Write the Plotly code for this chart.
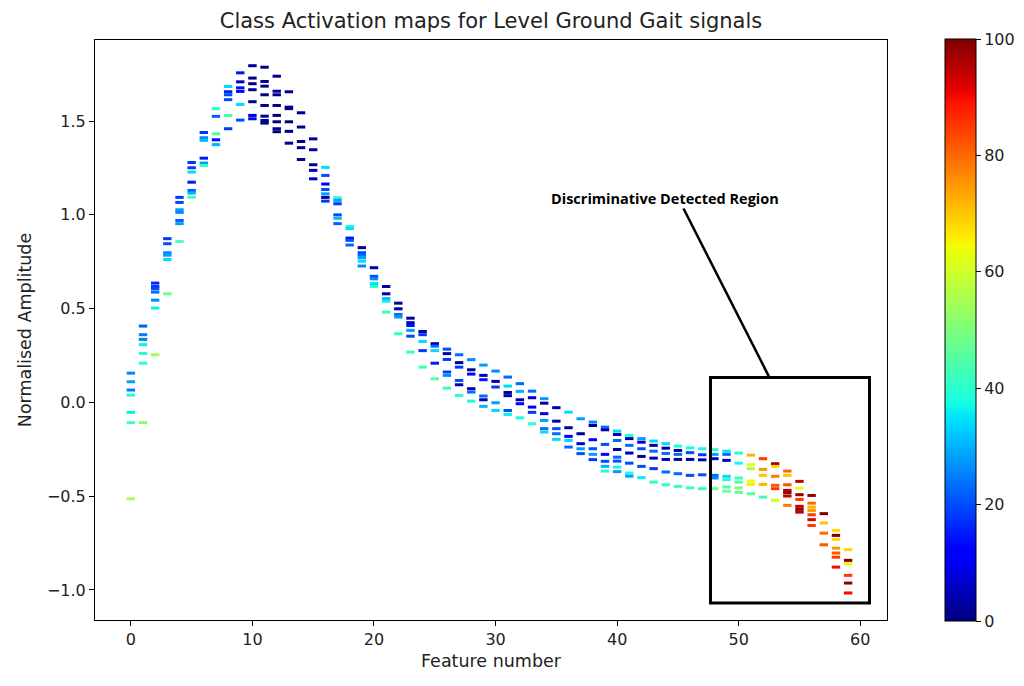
import numpy as np
import plotly.graph_objects as go

# ---------------- data ----------------
features = list(range(60))

amplitudes = [
    [0.156, 0.110, 0.066, 0.039, -0.053, -0.108, -0.514],
    [0.407, 0.361, 0.336, 0.308, 0.261, 0.209, -0.108],
    [0.636, 0.618, 0.606, 0.588, 0.545, 0.503, 0.254],
    [0.873, 0.846, 0.798, 0.785, 0.762, 0.579],
    [1.093, 1.066, 1.027, 1.013, 0.970, 0.953, 0.858],
    [1.279, 1.251, 1.228, 1.174, 1.130, 1.116, 1.094],
    [1.439, 1.411, 1.397, 1.302, 1.276, 1.263],
    [1.566, 1.525, 1.432, 1.400, 1.374],
    [1.684, 1.656, 1.640, 1.614, 1.530, 1.459],
    [1.757, 1.709, 1.677, 1.658, 1.588, 1.505],
    [1.795, 1.729, 1.699, 1.667, 1.603, 1.530, 1.512],
    [1.787, 1.711, 1.686, 1.640, 1.583, 1.526, 1.503, 1.489],
    [1.739, 1.659, 1.640, 1.583, 1.530, 1.496, 1.459, 1.443],
    [1.656, 1.574, 1.566, 1.496, 1.445, 1.382],
    [1.544, 1.468, 1.391, 1.358, 1.295],
    [1.405, 1.347, 1.267, 1.237, 1.192],
    [1.253, 1.210, 1.164, 1.135, 1.112, 1.093, 1.073],
    [1.091, 1.077, 1.059, 1.000, 0.982, 0.953],
    [0.938, 0.926, 0.876, 0.864, 0.839],
    [0.825, 0.798, 0.784, 0.771, 0.753, 0.727],
    [0.718, 0.672, 0.659, 0.633, 0.618],
    [0.618, 0.579, 0.553, 0.540, 0.481],
    [0.529, 0.499, 0.469, 0.455, 0.366],
    [0.449, 0.425, 0.410, 0.384, 0.353, 0.268],
    [0.378, 0.361, 0.325, 0.276, 0.188],
    [0.313, 0.300, 0.276, 0.209, 0.126],
    [0.284, 0.260, 0.229, 0.162, 0.144, 0.076],
    [0.254, 0.212, 0.188, 0.117, 0.094, 0.037],
    [0.228, 0.174, 0.151, 0.073, 0.055, 0.007],
    [0.199, 0.144, 0.121, 0.034, 0.014, -0.021],
    [0.167, 0.112, 0.082, -0.002, -0.043],
    [0.135, 0.087, 0.053, 0.036, -0.043, -0.064],
    [0.100, 0.059, 0.014, -0.007, -0.082],
    [0.060, 0.025, -0.025, -0.053, -0.114],
    [0.020, -0.004, -0.060, -0.096, -0.140, -0.158],
    [-0.028, -0.100, -0.140, -0.167, -0.197],
    [-0.052, -0.135, -0.181, -0.203, -0.238],
    [-0.087, -0.167, -0.220, -0.247, -0.273],
    [-0.105, -0.123, -0.199, -0.247, -0.277, -0.305],
    [-0.132, -0.146, -0.224, -0.277, -0.314, -0.341, -0.366],
    [-0.153, -0.171, -0.203, -0.251, -0.292, -0.313, -0.345, -0.369],
    [-0.176, -0.193, -0.229, -0.270, -0.324, -0.377, -0.393],
    [-0.193, -0.212, -0.247, -0.288, -0.341, -0.401],
    [-0.206, -0.229, -0.260, -0.297, -0.353, -0.425],
    [-0.220, -0.244, -0.272, -0.304, -0.371, -0.439],
    [-0.233, -0.256, -0.277, -0.304, -0.380, -0.448],
    [-0.242, -0.268, -0.304, -0.389, -0.455],
    [-0.247, -0.279, -0.306, -0.386, -0.460],
    [-0.252, -0.277, -0.300, -0.389, -0.403, -0.460],
    [-0.260, -0.277, -0.309, -0.394, -0.412, -0.451, -0.473],
    [-0.270, -0.324, -0.403, -0.425, -0.455, -0.480],
    [-0.281, -0.332, -0.353, -0.419, -0.437, -0.487],
    [-0.300, -0.357, -0.389, -0.437, -0.505],
    [-0.327, -0.341, -0.394, -0.442, -0.460, -0.522],
    [-0.366, -0.389, -0.439, -0.469, -0.481, -0.499, -0.549],
    [-0.421, -0.457, -0.492, -0.517, -0.554, -0.570, -0.585],
    [-0.496, -0.537, -0.558, -0.576, -0.599, -0.625, -0.656],
    [-0.593, -0.643, -0.697, -0.759],
    [-0.682, -0.709, -0.730, -0.777, -0.803, -0.825, -0.878],
    [-0.785, -0.842, -0.860, -0.922, -0.963, -1.016],
]

activations = [
    [26, 28, 25, 38, 36, 42, 55],
    [22, 25, 25, 36, 38, 40, 52],
    [16, 18, 20, 23, 26, 36, 55],
    [18, 20, 26, 28, 34, 48],
    [18, 20, 28, 26, 22, 28, 44],
    [18, 18, 34, 15, 22, 30, 42],
    [18, 26, 31, 15, 28, 40],
    [40, 22, 44, 14, 30],
    [34, 15, 20, 20, 42, 18],
    [14, 6, 14, 10, 34, 20],
    [2, 2, 2, 2, 3, 8, 12],
    [1, 1, 1, 1, 1, 2, 2, 1],
    [1, 1, 1, 1, 1, 0, 1, 0],
    [1, 0, 1, 0, 0, 0],
    [1, 0, 1, 0, 0],
    [2, 4, 1, 6, 6],
    [34, 20, 12, 20, 28, 3, 18],
    [38, 28, 18, 20, 30, 22],
    [38, 34, 14, 20, 23],
    [4, 20, 23, 28, 34, 26],
    [4, 20, 26, 34, 40],
    [3, 2, 30, 36, 42],
    [2, 2, 23, 28, 40],
    [2, 6, 14, 28, 20, 42],
    [4, 18, 34, 18, 42],
    [3, 23, 34, 15, 45],
    [20, 3, 18, 18, 26, 42],
    [23, 2, 18, 20, 5, 40],
    [26, 3, 12, 5, 23, 38],
    [28, 6, 15, 23, 5, 30],
    [26, 4, 18, 28, 34],
    [23, 34, 3, 5, 20, 36],
    [23, 30, 3, 12, 38],
    [23, 5, 12, 18, 40],
    [28, 3, 8, 28, 23, 34],
    [5, 5, 20, 23, 34],
    [34, 3, 12, 34, 23],
    [28, 2, 8, 28, 20],
    [26, 2, 12, 20, 28, 18],
    [23, 5, 20, 12, 20, 30, 38],
    [34, 3, 23, 3, 23, 20, 38, 28],
    [38, 3, 23, 5, 20, 38, 28],
    [28, 6, 20, 3, 20, 36],
    [34, 2, 23, 3, 18, 40],
    [34, 2, 23, 3, 23, 40],
    [38, 2, 23, 3, 23, 42],
    [38, 20, 3, 20, 42],
    [38, 18, 5, 20, 40],
    [40, 28, 8, 23, 26, 48],
    [35, 23, 5, 34, 38, 45, 48],
    [38, 38, 42, 45, 50, 48],
    [72, 62, 55, 62, 66, 45],
    [85, 75, 70, 72, 42],
    [98, 68, 78, 82, 85, 60],
    [80, 70, 82, 95, 98, 95, 78],
    [95, 62, 98, 85, 95, 98, 95],
    [98, 80, 72, 75, 85, 92, 85],
    [100, 70, 80, 82],
    [68, 100, 68, 75, 82, 85, 90],
    [68, 100, 65, 85, 98, 90],
]

colorbar_ticks = [0, 20, 40, 60, 80, 100]
x_ticks = [0, 10, 20, 30, 40, 50, 60]
y_ticks = [-1.0, -0.5, 0.0, 0.5, 1.0, 1.5]
y_ticktext = ["\u22121.0", "\u22120.5", "0.0", "0.5", "1.0", "1.5"]

# ---------------- matplotlib-like "jet" colorscale ----------------
_jet = {
    "r": [(0, 0), (0.35, 0), (0.66, 1), (0.89, 1), (1, 0.5)],
    "g": [(0, 0), (0.125, 0), (0.375, 1), (0.64, 1), (0.91, 0), (1, 0)],
    "b": [(0, 0.5), (0.11, 1), (0.34, 1), (0.65, 0), (1, 0)],
}
_stops = sorted({p for seg in _jet.values() for p, _ in seg})
jet_scale = []
for s in _stops:
    rgb = [int(round(255 * np.interp(s, [p for p, _ in _jet[c]], [v for _, v in _jet[c]])))
           for c in "rgb"]
    jet_scale.append([s, f"rgb({rgb[0]},{rgb[1]},{rgb[2]})"])

# ---------------- flatten ----------------
xs, ys, cs = [], [], []
for f, amps, acts in zip(features, amplitudes, activations):
    for a, c in zip(amps, acts):
        xs.append(f)
        ys.append(a)
        cs.append(c)

FONT = "DejaVu Sans"
TXT = "#222222"

fig = go.Figure()
fig.add_trace(go.Scatter(
    x=xs, y=ys, mode="markers",
    marker=dict(
        symbol="line-ew", size=6,
        line=dict(width=3, color=cs, colorscale=jet_scale, cmin=0, cmax=100),
        color=cs, colorscale=jet_scale, cmin=0, cmax=100,
        showscale=True,
        colorbar=dict(
            x=1.0606, xanchor="left", xref="paper",
            y=0.5, yanchor="middle", len=1.004, lenmode="fraction", ypad=0,
            thickness=31, outlinewidth=1, outlinecolor="black",
            tickmode="array", tickvals=colorbar_ticks,
            ticks="outside", ticklen=5, tickcolor="black",
            tickfont=dict(family=FONT, size=16, color=TXT),
        ),
    ),
    hoverinfo="x+y",
    showlegend=False,
))

# annotation box + pointer line + label
fig.add_shape(type="rect", xref="x", yref="y",
              x0=47.68, x1=60.76, y0=-1.07, y1=0.133,
              line=dict(color="black", width=3))
fig.add_shape(type="line", xref="x", yref="y",
              x0=45.46, y0=1.034, x1=52.48, y1=0.139,
              line=dict(color="black", width=2.5))
fig.add_annotation(x=43.97, y=1.087, xref="x", yref="y",
                   text="<b>Discriminative Detected Region</b>",
                   showarrow=False,
                   font=dict(family="Open Sans", size=14.5, color="black"))

axis_common = dict(
    showgrid=False, zeroline=False, showline=True, linecolor="black",
    linewidth=1, mirror=True, ticks="outside", ticklen=5, tickcolor="black",
    tickfont=dict(family=FONT, size=16, color=TXT),
)

fig.update_layout(
    width=1024, height=686,
    margin=dict(l=95, r=137, t=40, b=66, autoexpand=False),
    paper_bgcolor="white", plot_bgcolor="white",
    title=dict(text="Class Activation maps for Level Ground Gait signals",
               x=0.5 * (95 + 887) / 1024, xanchor="center",
               y=1 - 21 / 686, yanchor="middle",
               font=dict(family=FONT, size=21, color=TXT)),
    xaxis=dict(range=[-2.95, 62.2], tickmode="array", tickvals=x_ticks,
               title=dict(text="Feature number", standoff=6,
                          font=dict(family=FONT, size=17.5, color=TXT)),
               **axis_common),
    yaxis=dict(range=[-1.16, 1.932], tickmode="array", tickvals=y_ticks,
               ticktext=y_ticktext,
               title=dict(text="Normalised Amplitude", standoff=10,
                          font=dict(family=FONT, size=17.5, color=TXT)),
               **axis_common),
)

fig.write_html("out.html")
